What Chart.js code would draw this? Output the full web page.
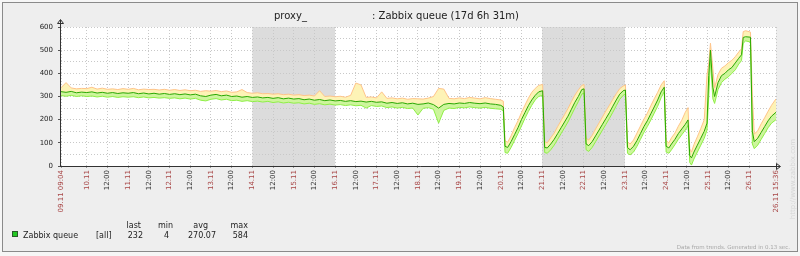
<!DOCTYPE html>
<html>
<head>
<meta charset="utf-8">
<title>Zabbix queue</title>
<script src="https://cdn.jsdelivr.net/npm/chart.js@4/dist/chart.umd.min.js"></script>
<style>
  html, body { margin: 0; padding: 0; background: #f4f4f4; }
  canvas { display: block; }
</style>
</head>
<body>
<canvas id="queue-chart" width="800" height="256"></canvas>
<script>
// time axis is in hours counted from 09.11 00:00
const startHour = 9 + 4 / 60;       // 09.11 09:04
const endHour = 17 * 24 + 15.6;     // 26.11 15:36
const firstLabel = "09.11 09:04";
const lastLabel = "26.11 15:36";
const weekendRanges = [[120, 168], [288, 336]];   // 14.11-16.11, 21.11-23.11

const hours = [
  9.07, 12, 15, 18, 21, 24, 27, 30, 33, 36, 39, 42, 45, 48, 51, 54, 57, 60, 63, 66,
  69, 72, 75, 78, 81, 84, 87, 90, 93, 96, 99, 102, 105, 108, 111, 114, 117, 120, 123, 126,
  129, 132, 135, 138, 141, 144, 147, 150, 153, 156, 159, 162, 165, 168, 171, 174, 177, 180, 183, 186,
  189, 192, 195, 198, 201, 204, 207, 210, 213, 216, 219, 222, 225, 228, 231, 234, 237, 240, 243, 246,
  249, 252, 255, 258, 261, 264,
  265.5, 266.5, 268, 270, 272, 274, 276, 278, 280, 282,
  284, 286, 288.3, 289.5, 291, 293, 295, 297, 299, 301,
  303, 305, 307, 309, 311, 312.3, 313.5, 315, 317, 319,
  321, 323, 325, 327, 329, 331, 333, 335, 336.3, 337.5,
  339, 341, 343, 345, 347, 349, 351, 353, 355, 357,
  358.8, 359.9, 361.5, 363, 365, 367, 369, 371, 372.6, 373.6,
  374.6, 376, 378, 380, 382, 383.6, 384.6, 385.6, 387, 388,
  390, 392, 394, 396, 398, 400, 402, 403.6, 404.6, 406,
  408.8, 409.9, 411, 413, 415, 417, 419, 421, 423.6
];

const avgValues = [
  321, 318, 322, 316, 319, 317, 320, 315, 318, 314,
  317, 313, 316, 314, 317, 312, 315, 311, 314, 310,
  313, 309, 312, 308, 311, 307, 310, 303, 300, 306,
  309, 303, 306, 300, 302, 297, 300, 296, 298, 294,
  296, 292, 295, 290, 293, 289, 291, 286, 289, 284,
  287, 282, 285, 281, 283, 279, 282, 278, 280, 276,
  279, 275, 277, 271, 274, 270, 273, 268, 271, 266,
  268, 272, 265, 250, 266, 270, 268, 272, 270, 274,
  271, 269, 272, 268, 266, 262,
  255, 85, 80, 105, 135, 165, 200, 230, 260, 285,
  305, 320, 325, 80, 78, 95, 115, 140, 165, 190,
  215, 245, 275, 300, 330, 333, 95, 88, 105, 130,
  155, 180, 205, 230, 258, 285, 310, 325, 328, 80,
  70, 85, 110, 140, 170, 195, 225, 255, 285, 320,
  340, 85, 78, 95, 115, 140, 160, 180, 199, 45,
  35, 60, 90, 120, 150, 185, 390, 500, 340, 300,
  360, 390, 400, 415, 425, 445, 465, 480, 555, 558,
  556, 150, 105, 120, 145, 170, 195, 215, 232
];

const minValues = [
  304, 301, 305, 300, 303, 300, 302, 298, 301, 297,
  300, 296, 299, 297, 299, 295, 298, 294, 296, 293,
  295, 292, 294, 290, 293, 289, 292, 284, 281, 288,
  291, 285, 288, 282, 284, 279, 282, 278, 280, 276,
  279, 274, 277, 272, 275, 271, 273, 268, 271, 266,
  269, 264, 267, 263, 265, 261, 264, 260, 262, 250,
  261, 257, 259, 252, 255, 250, 253, 248, 250, 220,
  249, 252, 245, 185, 240, 250, 248, 253, 251, 255,
  252, 250, 253, 249, 247, 245,
  238, 58, 55, 80, 110, 140, 172, 205, 235, 262,
  285, 300, 305, 58, 55, 70, 90, 115, 140, 165,
  190, 220, 250, 278, 310, 315, 70, 63, 80, 105,
  130, 155, 180, 205, 232, 260, 288, 305, 310, 55,
  48, 60, 85, 115, 145, 170, 198, 228, 258, 295,
  320, 60, 55, 70, 92, 115, 135, 155, 175, 15,
  4, 30, 60, 90, 120, 155, 300, 460, 290, 270,
  330, 360, 375, 385, 400, 415, 440, 455, 530, 540,
  535, 95, 75, 90, 115, 140, 165, 185, 200
];

const maxValues = [
  338, 360, 337, 333, 335, 334, 340, 332, 336, 331,
  333, 330, 334, 331, 335, 329, 332, 330, 331, 328,
  331, 327, 330, 326, 329, 325, 327, 322, 325, 323,
  326, 321, 324, 318, 320, 330, 317, 314, 316, 312,
  313, 310, 312, 308, 310, 306, 308, 304, 306, 302,
  325, 300, 302, 299, 301, 297, 305, 358, 350, 296,
  298, 294, 320, 292, 294, 290, 293, 288, 291, 290,
  289, 293, 300, 335, 332, 292, 290, 294, 291, 296,
  293, 290, 295, 291, 288, 285,
  280, 110, 102, 130, 165, 195, 230, 262, 292, 318,
  335, 348, 352, 105, 100, 122, 142, 170, 196, 222,
  248, 278, 306, 328, 348, 352, 120, 112, 132, 160,
  186, 212, 238, 262, 288, 312, 334, 345, 350, 105,
  95, 112, 142, 172, 202, 228, 260, 290, 318, 350,
  368, 110, 100, 122, 142, 172, 198, 232, 252, 75,
  60, 92, 126, 162, 200, 393, 440, 530, 420, 338,
  395, 422, 432, 446, 456, 472, 492, 506, 580, 584,
  578, 300, 138, 152, 182, 208, 236, 262, 290
];

const legendColumns = ["last", "min", "avg", "max"];
const legendValues = ["232", "4", "270.07", "584"];

// helper: pair hours with values for the linear x axis
function toPoints(values) {
  return values.map((v, i) => ({ x: hours[i], y: v }));
}

function isDayTick(h) {
  return h === startHour || h === endHour || h % 24 === 0;
}

function tickLabel(h) {
  if (h === startHour) return firstLabel;
  if (h === endHour) return lastLabel;
  if (h % 24 === 0) {
    return String(9 + h / 24).padStart(2, "0") + ".11";
  }
  return "12:00";
}

// background, weekend bands and the extra texts zabbix puts around the graph
const zabbixFrame = {
  id: "zabbixFrame",
  beforeDraw(chart) {
    const c = chart.ctx, a = chart.chartArea, xs = chart.scales.x;
    c.save();
    c.fillStyle = "#f6f6f6";
    c.fillRect(0, 0, chart.width, chart.height);
    c.fillStyle = "#eeeeee";
    c.fillRect(2, 2, 796, 250);
    c.strokeStyle = "#8a8a8a";
    c.lineWidth = 1;
    c.strokeRect(2.5, 2.5, 795, 249);
    c.fillStyle = "#ffffff";
    c.fillRect(a.left, a.top, a.right - a.left, a.bottom - a.top);
    c.fillStyle = "#dcdcdc";
    weekendRanges.forEach((r) => {
      const x1 = xs.getPixelForValue(r[0]);
      const x2 = xs.getPixelForValue(r[1]);
      c.fillRect(x1, a.top, x2 - x1, a.bottom - a.top);
    });
    c.restore();
  },
  afterDraw(chart) {
    const c = chart.ctx, a = chart.chartArea;
    c.save();

    // axes with arrows
    c.strokeStyle = "#333333";
    c.lineWidth = 1;
    c.beginPath();
    c.moveTo(a.left - 0.5, 20);
    c.lineTo(a.left - 0.5, a.bottom + 0.5);
    c.lineTo(a.right + 4, a.bottom + 0.5);
    c.stroke();
    c.beginPath();
    c.moveTo(a.left - 3.5, 23.5);
    c.lineTo(a.left - 0.5, 19.5);
    c.lineTo(a.left + 2.5, 23.5);
    c.closePath();
    c.stroke();
    c.beginPath();
    c.moveTo(a.right + 0.5, a.bottom - 2.5);
    c.lineTo(a.right + 4.5, a.bottom + 0.5);
    c.lineTo(a.right + 0.5, a.bottom + 3.5);
    c.closePath();
    c.stroke();

    // title
    c.fillStyle = "#222222";
    c.font = "10px 'DejaVu Sans'";
    c.textBaseline = "alphabetic";
    c.textAlign = "left";
    c.fillText("proxy_", 274, 19);
    c.fillText(": Zabbix queue (17d 6h 31m)", 372, 19);

    // legend
    c.fillStyle = "#22c822";
    c.fillRect(12, 231, 6, 6);
    c.strokeStyle = "#2a5a2a";
    c.strokeRect(12.5, 231.5, 5, 5);
    c.fillStyle = "#222222";
    c.font = "8px 'DejaVu Sans'";
    c.fillText("Zabbix queue", 23, 238);
    c.fillText("[all]", 96, 238);
    const headRight = [141, 173, 208, 248];
    const valueRight = [143, 169, 216, 248];
    c.textAlign = "right";
    legendColumns.forEach((t, i) => c.fillText(t, headRight[i], 228));
    legendValues.forEach((t, i) => c.fillText(t, valueRight[i], 238));

    // footer note
    c.fillStyle = "#a8a8a8";
    c.font = "5.5px 'DejaVu Sans'";
    c.fillText("Data from trends. Generated in 0.13 sec.", 790, 249);

    // vertical watermark
    c.translate(793, 179);
    c.rotate(-Math.PI / 2);
    c.textAlign = "center";
    c.fillStyle = "#d6d6d6";
    c.font = "7px 'DejaVu Sans'";
    c.fillText("http://www.zabbix.com", 0, 2);
    c.restore();
  }
};

const ctx = document.getElementById("queue-chart");

new Chart(ctx, {
  type: "line",
  data: {
    datasets: [
      {
        label: "avg",
        data: toPoints(avgValues),
        borderColor: "#2aa800",
        borderWidth: 1,
        pointRadius: 0,
        fill: false,
        order: 0,
      },
      {
        label: "max",
        data: toPoints(maxValues),
        borderColor: "#ffc48a",
        backgroundColor: "#fdf3b6",
        borderWidth: 1,
        pointRadius: 0,
        fill: 0,
        order: 2,
      },
      {
        label: "min",
        data: toPoints(minValues),
        borderColor: "#8ff046",
        backgroundColor: "#cdf59c",
        borderWidth: 1,
        pointRadius: 0,
        fill: 0,
        order: 1,
      },
    ],
  },
  options: {
    responsive: false,
    animation: false,
    devicePixelRatio: 1,
    layout: { padding: { left: 0, right: 24, top: 27, bottom: 0 } },
    plugins: {
      legend: { display: false },
      title: { display: false },
      tooltip: { enabled: false },
      filler: { drawTime: "beforeDatasetsDraw" },
    },
    scales: {
      x: {
        type: "linear",
        min: startHour,
        max: endHour,
        // the labels are clipped to the scale box, so keep it as tall as the space below the plot
        afterFit: (s) => { s.height = 90; },
        afterBuildTicks: (axis) => {
          const ticks = [{ value: startHour }];
          for (let h = 24; h <= 408; h += 12) ticks.push({ value: h });
          ticks.push({ value: endHour });
          axis.ticks = ticks;
        },
        grid: {
          color: "#c8c8c8",
          lineWidth: 1,
          tickLength: 2,
          tickColor: "#999999",
        },
        border: { display: false, dash: [1, 2] },
        ticks: {
          autoSkip: false,
          minRotation: 90,
          maxRotation: 90,
          padding: 2,
          font: { family: "'DejaVu Sans'", size: 7 },
          color: (c) => (isDayTick(c.tick.value) ? "#a84646" : "#333333"),
          callback: (v) => tickLabel(v),
        },
      },
      y: {
        min: 0,
        max: 600,
        afterFit: (s) => { s.width = 61; },
        grid: {
          color: "#c8c8c8",
          lineWidth: 1,
          tickLength: 3,
          tickColor: (c) => (c.tick && c.tick.value % 100 === 0 ? "#555555" : "rgba(0,0,0,0)"),
        },
        border: { display: false, dash: [1, 2] },
        ticks: {
          stepSize: 50,
          padding: 5,
          font: { family: "'DejaVu Sans'", size: 7 },
          color: "#222222",
          callback: (v) => (v % 100 === 0 ? v : ""),
        },
      },
    },
  },
  plugins: [zabbixFrame],
});
</script>
</body>
</html>
